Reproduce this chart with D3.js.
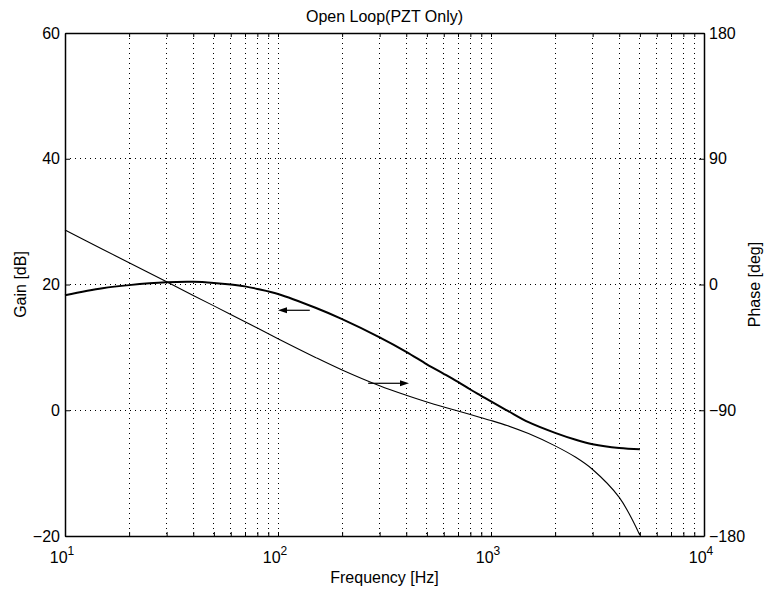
<!DOCTYPE html>
<html>
<head>
<meta charset="utf-8">
<script src="https://cdn.jsdelivr.net/npm/d3@7"></script>
<style>
	body { margin: 0; background: #fff; }
	text { font-family: "Liberation Sans", Arial, sans-serif; fill: #000; }
</style>
</head>
<body>
<svg id="chart" width="771" height="590"></svg>
<script>
// Bode data
const freqs = [10, 15, 20, 30, 40, 50, 60, 70, 80, 100, 150, 200, 300, 400, 500, 600, 700, 800, 900, 1000, 1200, 1500, 2000, 2500, 3000, 4000, 5000];
const gainDb = [18.3, 19.4, 19.9, 20.35, 20.42, 20.25, 20.0, 19.7, 19.3, 18.5, 16.3, 14.5, 11.6, 9.3, 7.3, 5.8, 4.5, 3.3, 2.3, 1.4, -0.1, -1.9, -3.6, -4.7, -5.4, -6.0, -6.2];
const phaseDeg = [39, 25.3, 15.6, 1.9, -7.8, -15.3, -21.5, -26.7, -31.2, -38.8, -52.2, -61.2, -72.5, -79.3, -84.1, -87.7, -90.6, -93.1, -95.3, -97.3, -101.1, -106.7, -115.5, -123.7, -132.4, -152.4, -179.4];

const gainTicks = [-20, 0, 20, 40, 60];
const phaseTicks = [-180, -90, 0, 90, 180];
const decades = [10, 100, 1000, 10000];

// arrows: [from freq, to freq, level]
const gainArrow = [141, 100, 15.9];
const phaseArrow = [265, 412, -70.7];

const svg = d3.select('#chart');
const margin = {top: 33, right: 67, bottom: 54, left: 65};
const width = 771 - margin.left - margin.right;
const height = 590 - margin.top - margin.bottom;

const x = d3.scaleLog().domain([10, 10000]).range([0, width]);
const yGain = d3.scaleLinear().domain([-20, 60]).range([height, 0]);
const yPhase = d3.scaleLinear().domain([-180, 180]).range([height, 0]);

const g = svg.append('g').attr('transform', `translate(${margin.left},${margin.top})`);

// all log positions 10..10000
const logTicks = [];
for (let d of decades.slice(0, 3)) {
	for (let k = 1; k <= 9; k++) logTicks.push(d * k);
}
logTicks.push(10000);

const minus = (v) => v < 0 ? '\u2212' + Math.abs(v) : '' + v;

// dotted grid
g.append('g')
	.selectAll('line')
	.data(logTicks.filter((f) => f > 10 && f < 10000))
	.enter()
	.append('line')
	.attr('x1', (d) => x(d)).attr('x2', (d) => x(d))
	.attr('y1', 0).attr('y2', height)
	.attr('stroke', '#000').attr('stroke-width', 1)
	.attr('stroke-dasharray', '1,4')
	.attr('shape-rendering', 'crispEdges');

g.append('g')
	.selectAll('line')
	.data(gainTicks.filter((v) => v > -20 && v < 60))
	.enter()
	.append('line')
	.attr('x1', 0).attr('x2', width)
	.attr('y1', (d) => yGain(d)).attr('y2', (d) => yGain(d))
	.attr('stroke', '#000').attr('stroke-width', 1)
	.attr('stroke-dasharray', '1,4')
	.attr('shape-rendering', 'crispEdges');

// axes with inward ticks
const xBottom = d3.axisBottom(x).tickValues(logTicks).tickSizeInner(-4).tickSizeOuter(0).tickFormat('');
const xTop = d3.axisTop(x).tickValues(logTicks).tickSizeInner(-4).tickSizeOuter(0).tickFormat('');
const yLeft = d3.axisLeft(yGain).tickValues(gainTicks).tickSizeInner(-5).tickSizeOuter(0).tickPadding(5).tickFormat(minus);
const yRight = d3.axisRight(yPhase).tickValues(phaseTicks).tickSizeInner(-5).tickSizeOuter(0).tickPadding(5).tickFormat(minus);

const styleAxis = (sel) => {
	sel.select('.domain').attr('stroke', '#000').attr('stroke-width', 1.5);
	sel.selectAll('.tick line').attr('stroke', '#000');
	sel.selectAll('.tick text').style('font-size', '16px').attr('fill', '#000');
};

g.append('g').attr('transform', `translate(0,${height})`).call(xBottom).call(styleAxis);
g.append('g').call(xTop).call(styleAxis);
g.append('g').call(yLeft).call(styleAxis);
g.append('g').attr('transform', `translate(${width},0)`).call(yRight).call(styleAxis);

// decade labels 10^n
const xl = g.append('g')
	.selectAll('text')
	.data(decades)
	.enter()
	.append('text')
	.attr('x', (d) => x(d) - 3)
	.attr('y', height + 27)
	.attr('text-anchor', 'middle')
	.style('font-size', '16px');
xl.append('tspan').text('10');
xl.append('tspan').attr('dy', -8).style('font-size', '12px').text((d) => Math.round(Math.log10(d)));

// curves
const gainLine = d3.line()
	.x((d, i) => x(freqs[i]))
	.y((d) => yGain(d))
	.curve(d3.curveCatmullRom.alpha(0.5));
const phaseLine = d3.line()
	.x((d, i) => x(freqs[i]))
	.y((d) => yPhase(d))
	.curve(d3.curveCatmullRom.alpha(0.5));

g.append('path').datum(phaseDeg)
	.attr('d', phaseLine)
	.attr('fill', 'none').attr('stroke', '#000').attr('stroke-width', 1.1);
g.append('path').datum(gainDb)
	.attr('d', gainLine)
	.attr('fill', 'none').attr('stroke', '#000').attr('stroke-width', 2);

// arrows
const drawArrow = (x0, x1, yy) => {
	const dir = x1 > x0 ? 1 : -1;
	const len = 9, half = 3;
	g.append('line')
		.attr('x1', x0).attr('x2', x1 - dir * len)
		.attr('y1', yy).attr('y2', yy)
		.attr('stroke', '#000').attr('stroke-width', 1.2);
	g.append('path')
		.attr('d', `M${x1},${yy}L${x1 - dir * len},${yy - half}L${x1 - dir * len},${yy + half}Z`)
		.attr('fill', '#000');
};
drawArrow(x(gainArrow[0]), x(gainArrow[1]), yGain(gainArrow[2]));
drawArrow(x(phaseArrow[0]), x(phaseArrow[1]), yPhase(phaseArrow[2]));

// titles
svg.append('text')
	.attr('x', margin.left + width / 2).attr('y', 22)
	.attr('text-anchor', 'middle').style('font-size', '16px')
	.text('Open Loop(PZT Only)');
svg.append('text')
	.attr('x', margin.left + width / 2).attr('y', 583)
	.attr('text-anchor', 'middle').style('font-size', '16px')
	.text('Frequency [Hz]');
svg.append('text')
	.attr('transform', `translate(26,${margin.top + height / 2}) rotate(-90)`)
	.attr('text-anchor', 'middle').style('font-size', '16px')
	.text('Gain [dB]');
svg.append('text')
	.attr('transform', `translate(760,${margin.top + height / 2}) rotate(-90)`)
	.attr('text-anchor', 'middle').style('font-size', '16px')
	.text('Phase [deg]');
</script>
</body>
</html>
